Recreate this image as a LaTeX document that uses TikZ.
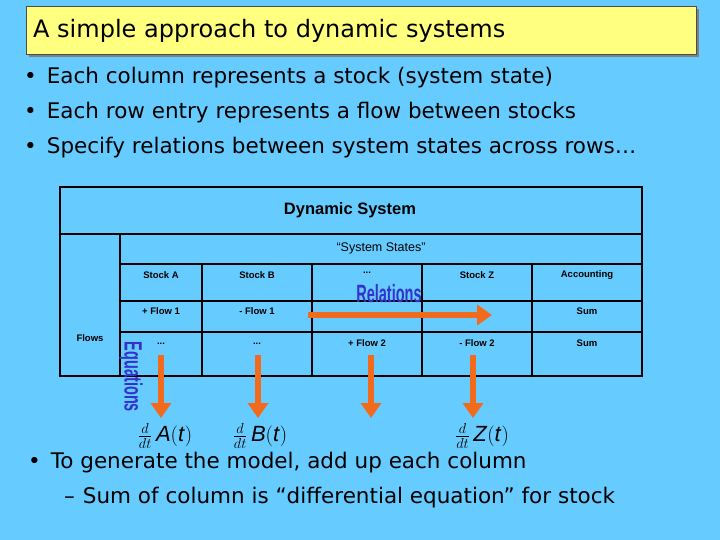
\documentclass[tikz,border=0pt]{standalone}
\usepackage{fontspec}
\setmainfont{DejaVu Sans}
\newfontfamily\arial{Liberation Sans}
\usetikzlibrary{arrows.meta}
\definecolor{bg}{HTML}{66CCFF}
\definecolor{ttl}{HTML}{FFFF80}
\definecolor{org}{HTML}{F26B1D}
\definecolor{lbl}{HTML}{3333CC}
\begin{document}
\begin{tikzpicture}[x=1pt,y=-1pt,
  cell/.style={font=\arial\bfseries\fontsize{9.5}{11}\selectfont,inner sep=0},
  tline/.style={line width=1.4pt},
  bullet/.style={anchor=west,font=\fontsize{21.5}{24}\selectfont,inner sep=0},
  flowarrow/.style={org,line width=6pt,-{Triangle[length=15pt,width=20pt]}},
  wordart/.style={text=lbl,font=\arial\bfseries\fontsize{25}{25}\selectfont,inner sep=0,draw=none}]
\fill[bg] (0,0) rectangle (720,540);
\useasboundingbox (0,0) rectangle (720,540);
% title
\fill[gray] (29,9) rectangle (699,57);
\node[draw=black!70,line width=1.2pt,fill=ttl,minimum width=670pt,minimum height=48pt,anchor=north west,inner sep=0] (title) at (26,6) {};
\node[anchor=west,inner sep=0,font=\fontsize{24}{26}\selectfont] (tt) at (33,31) {A simple approach to dynamic systems};
% bullets
\node[bullet] (b1) at (24,78) {•\hspace{10pt}Each column represents a stock (system state)};
\node[bullet] (b2) at (24,113) {•\hspace{10pt}Each row entry represents a flow between stocks};
\node[bullet] (b3) at (24,148) {•\hspace{10pt}Specify relations between system states across rows…};
% table
\draw[line width=2.4pt] (60,187) rectangle (642,376);
\draw[tline] (60,234) -- (642,234);
\draw[tline] (120,264) -- (642,264);
\draw[tline] (120,301) -- (642,301);
\draw[tline] (120,332) -- (642,332);
\draw[tline] (120,234) -- (120,376);
\foreach \x in {202,312,422,532} \draw[tline] (\x,264) -- (\x,376);
\node[font=\arial\bfseries\fontsize{16.5}{18}\selectfont] (ds) at (350,210) {Dynamic System};
\node[font=\arial\fontsize{12.5}{14}\selectfont] (ss) at (381,248) {“System States”};
\node[cell] (sa) at (161,275) {Stock A};
\node[cell] (sb) at (257,275) {Stock B};
\node[cell] (sd) at (367,273) {...};
\node[cell] (sz) at (477,275) {Stock Z};
\node[cell] (ac) at (587,275) {Accounting};
\node[cell] (f1) at (161,311) {+ Flow 1};
\node[cell] (f1m) at (257,311) {- Flow 1};
\node[cell] (s1) at (587,311) {Sum};
\node[cell] (fl) at (90,338) {Flows};
\node[cell] (d1) at (161,344) {...};
\node[cell] (d2) at (257,344) {...};
\node[cell] (f2) at (367,343) {+ Flow 2};
\node[cell] (f2m) at (477,343) {- Flow 2};
\node[cell] (s2) at (587,343) {Sum};
% word art
\node[wordart,xscale=0.58] (rel) at (389,294) {Relations};
\node[wordart,yscale=0.58,rotate=-90] (eq) at (131,377) {Equations};
% arrows
\coordinate (h0) at (308,315); \coordinate (h1) at (492,315);
\draw[flowarrow] (h0) -- (h1);
\foreach \x/\n in {161/a,258/b,371/c,473/d}{
  \coordinate (t\n) at (\x,355); \coordinate (e\n) at (\x,418);
  \draw[flowarrow] (t\n) -- (e\n);}
% equations
\node[font=\arial\fontsize{22}{24}\selectfont] (ea) at (165,436) {$\frac{d}{dt}\,$\textit{A}$($\textit{t}$)$};
\node[font=\arial\fontsize{22}{24}\selectfont] (eb) at (260,436) {$\frac{d}{dt}\,$\textit{B}$($\textit{t}$)$};
\node[font=\arial\fontsize{22}{24}\selectfont] (ez) at (482,436) {$\frac{d}{dt}\,$\textit{Z}$($\textit{t}$)$};
% bottom bullets
\node[bullet] (b4) at (28,463) {•\hspace{10pt}To generate the model, add up each column};
\node[bullet] (b5) at (64,498) {–\hspace{8pt}Sum of column is “differential equation” for stock};
\end{tikzpicture}
\end{document}
